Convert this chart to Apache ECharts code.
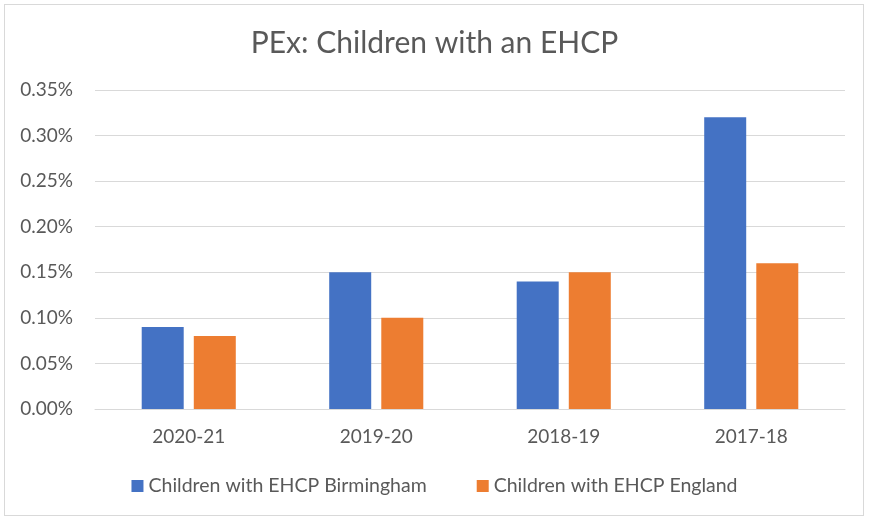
<!DOCTYPE html>
<html>
<head>
<meta charset="utf-8">
<script src="https://cdn.jsdelivr.net/npm/echarts@6/dist/echarts.min.js"></script>
<style>
html,body{margin:0;padding:0;background:#fff;}
#frame{position:absolute;left:4px;top:4px;width:860px;height:512px;border:1px solid #d9d9d9;box-sizing:border-box;}
#chart{position:absolute;left:0;top:0;width:869px;height:521px;}
</style>
</head>
<body>
<div id="frame"></div>
<div id="chart"></div>
<script>
var categories = ['2020-21', '2019-20', '2018-19', '2017-18'];
var birmingham = [0.09, 0.15, 0.14, 0.32];
var england = [0.08, 0.10, 0.15, 0.16];
var yTicks = [0, 0.05, 0.10, 0.15, 0.20, 0.25, 0.30, 0.35];

var FONT = 'Lato';
var chart = echarts.init(document.getElementById('chart'), null, {renderer: 'canvas'});
chart.setOption({
  animation: false,
  backgroundColor: 'transparent',
  title: {
    text: 'PEx: Children with an EHCP',
    left: 'center',
    top: 23,
    textStyle: {fontFamily: FONT, fontSize: 30, fontWeight: 'normal', color: '#595959'}
  },
  legend: {
    bottom: 20,
    left: 'center',
    itemWidth: 12,
    itemHeight: 12,
    itemGap: 50,
    icon: 'rect',
    textStyle: {fontFamily: FONT, fontSize: 19.5, color: '#595959', padding: [0, 0, 0, 0]},
    data: ['Children with EHCP Birmingham', 'Children with EHCP England']
  },
  grid: {left: 95, right: 24, top: 90, bottom: 112, containLabel: false},
  xAxis: {
    type: 'category',
    data: categories,
    axisLine: {lineStyle: {color: '#d9d9d9', width: 1}},
    axisTick: {show: false},
    axisLabel: {fontFamily: FONT, fontSize: 19, color: '#595959', margin: 18}
  },
  yAxis: {
    type: 'value',
    min: yTicks[0],
    max: yTicks[yTicks.length - 1],
    interval: 0.05,
    axisLine: {show: false},
    axisTick: {show: false},
    splitLine: {lineStyle: {color: '#d9d9d9', width: 1}},
    axisLabel: {
      fontFamily: FONT, fontSize: 19, color: '#595959', margin: 22,
      formatter: function (v) { return v.toFixed(2) + '%'; }
    }
  },
  series: [
    {
      name: 'Children with EHCP Birmingham',
      type: 'bar',
      data: birmingham,
      barWidth: 42,
      barGap: '24%',
      itemStyle: {color: '#4472c4'}
    },
    {
      name: 'Children with EHCP England',
      type: 'bar',
      data: england,
      barWidth: 42,
      itemStyle: {color: '#ed7d31'}
    }
  ]
});
</script>
</body>
</html>
